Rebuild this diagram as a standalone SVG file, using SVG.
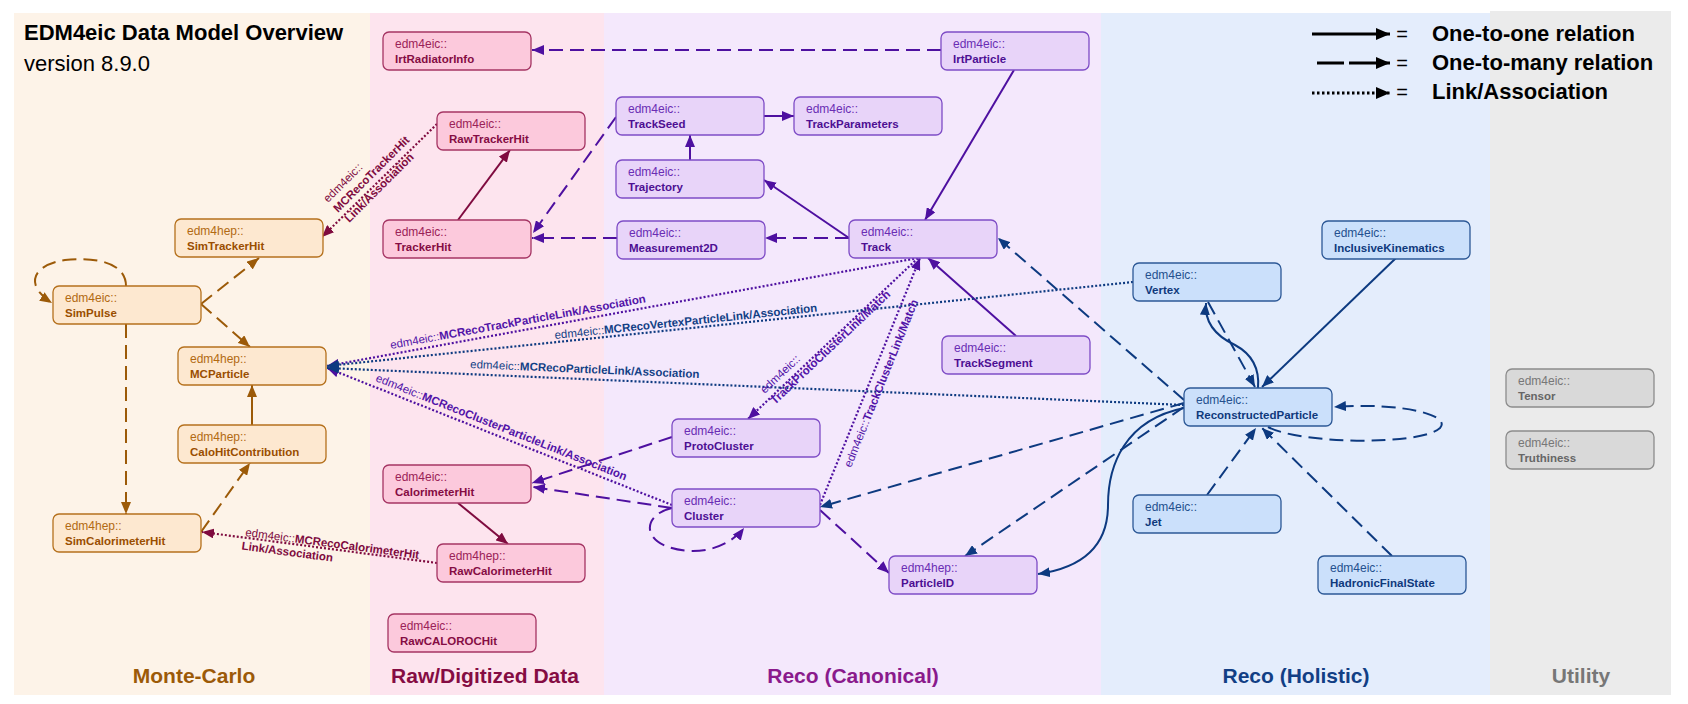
<svg xmlns="http://www.w3.org/2000/svg" width="1688" height="704" viewBox="0 0 1688 704">
<defs>
<style>
text{font-family:"Liberation Sans",Arial,sans-serif}
.node rect{stroke-width:1.3}
.ns{font-size:12px}
.nm{font-size:11.5px;font-weight:bold}
.mc rect{fill:#fde8d0;stroke:#b5701c}.mc .ns{fill:#b26a12}.mc .nm{fill:#9a4e00}
.raw rect{fill:#fcc9dc;stroke:#a53463}.raw .ns{fill:#9b2258}.raw .nm{fill:#850c43}
.can rect{fill:#e8d4f9;stroke:#7e4cc6}.can .ns{fill:#6a2db4}.can .nm{fill:#4d0f93}
.hol rect{fill:#cbe0fb;stroke:#2c5896}.hol .ns{fill:#25508e}.hol .nm{fill:#0f397c}
.utl rect{fill:#d9d9d9;stroke:#8c8c8c}.utl .ns{fill:#777}.utl .nm{fill:#666}
.e{fill:none;stroke-width:2}
.dash{stroke-dasharray:14 7}
.dot{stroke-dasharray:2 2;stroke-width:2.2}
.cmc{stroke:#9c5a08}.craw{stroke:#7f0b3f}.ccan{stroke:#4e10a0}.chol{stroke:#0d3a80}
.lbl{font-size:11.5px}
.b{font-weight:bold}
.lraw{fill:#7f0b3f}.lcan{fill:#5214a8}.lhol{fill:#123f85}
.sec{font-size:21px;font-weight:bold;text-anchor:middle}
.leg{font-size:22px;font-weight:bold;fill:#000}
</style>
<marker id="a-mc" viewBox="0 0 12 10" refX="12" refY="5" markerWidth="12" markerHeight="10" markerUnits="userSpaceOnUse" orient="auto"><path d="M0,0 L12,5 L0,10 z" fill="#9c5a08"/></marker>
<marker id="a-raw" viewBox="0 0 12 10" refX="12" refY="5" markerWidth="12" markerHeight="10" markerUnits="userSpaceOnUse" orient="auto"><path d="M0,0 L12,5 L0,10 z" fill="#7f0b3f"/></marker>
<marker id="a-can" viewBox="0 0 12 10" refX="12" refY="5" markerWidth="12" markerHeight="10" markerUnits="userSpaceOnUse" orient="auto"><path d="M0,0 L12,5 L0,10 z" fill="#4e10a0"/></marker>
<marker id="a-hol" viewBox="0 0 12 10" refX="12" refY="5" markerWidth="12" markerHeight="10" markerUnits="userSpaceOnUse" orient="auto"><path d="M0,0 L12,5 L0,10 z" fill="#0d3a80"/></marker>
<marker id="a-blk" viewBox="0 0 14 12" refX="14" refY="6" markerWidth="14" markerHeight="12" markerUnits="userSpaceOnUse" orient="auto"><path d="M0,0 L14,6 L0,12 z" fill="#000"/></marker>
</defs>

<g id="panels">
<rect x="14" y="13" width="356" height="682" fill="#fdf3e8"/>
<rect x="370" y="13" width="234" height="682" fill="#fde4ee"/>
<rect x="604" y="13" width="497" height="682" fill="#f4e8fc"/>
<rect x="1101" y="13" width="389" height="682" fill="#e4edfc"/>
<rect x="1490" y="11" width="181" height="684" fill="#ebebeb"/>
</g>

<g id="titles">
<text x="24" y="40" style="font-size:22px;font-weight:bold" fill="#000">EDM4eic Data Model Overview</text>
<text x="24" y="71" style="font-size:22px" fill="#000">version 8.9.0</text>
<text class="sec" x="194" y="683" fill="#9c5a08">Monte-Carlo</text>
<text class="sec" x="485" y="683" fill="#850c43">Raw/Digitized Data</text>
<text class="sec" x="853" y="683" fill="#8a1a8c">Reco (Canonical)</text>
<text class="sec" x="1296" y="683" fill="#123f85">Reco (Holistic)</text>
<text class="sec" x="1581" y="683" fill="#777">Utility</text>
</g>

<g id="legend">
<path d="M1312,34 L1390,34" stroke="#000" stroke-width="3" fill="none" marker-end="url(#a-blk)"/>
<path d="M1317,63 L1344,63 M1349,63 L1390,63" stroke="#000" stroke-width="3" fill="none" marker-end="url(#a-blk)"/>
<path d="M1312,93 L1390,93" stroke="#000" stroke-width="3" stroke-dasharray="2.5 2.5" fill="none" marker-end="url(#a-blk)"/>
<text x="1402" y="41" style="font-size:20px;text-anchor:middle">=</text>
<text x="1402" y="70" style="font-size:20px;text-anchor:middle">=</text>
<text x="1402" y="99" style="font-size:20px;text-anchor:middle">=</text>
<text class="leg" x="1432" y="41">One-to-one relation</text>
<text class="leg" x="1432" y="70">One-to-many relation</text>
<text class="leg" x="1432" y="99">Link/Association</text>
</g>

<g id="connectors">
<!-- Monte-Carlo -->
<path class="e dash cmc" d="M126,286 C126,262 95,257 65,260 C35,264 22,284 52,303" marker-end="url(#a-mc)"/>
<path class="e dash cmc" d="M201,304 L259,258" marker-end="url(#a-mc)"/>
<path class="e dash cmc" d="M201,304 L250,347" marker-end="url(#a-mc)"/>
<path class="e dash cmc" d="M126,324 L126,514" marker-end="url(#a-mc)"/>
<path class="e cmc" d="M252,425 L252,385" marker-end="url(#a-mc)"/>
<path class="e dash cmc" d="M201,532 L250,463" marker-end="url(#a-mc)"/>
<!-- Raw -->
<path class="e craw" d="M458,220 L510,150" marker-end="url(#a-raw)"/>
<path class="e dot craw" d="M437,124 L322,237" marker-end="url(#a-raw)"/>
<path class="e dot craw" d="M437,563 L202,532" marker-end="url(#a-raw)"/>
<path class="e craw" d="M458,503 L508,544" marker-end="url(#a-raw)"/>
<!-- Canonical -->
<path class="e dash ccan" d="M941,50 L532,50" marker-end="url(#a-can)"/>
<path class="e ccan" d="M1014,70 L925,220" marker-end="url(#a-can)"/>
<path class="e ccan" d="M764,116 L794,116" marker-end="url(#a-can)"/>
<path class="e ccan" d="M690,160 L690,135" marker-end="url(#a-can)"/>
<path class="e ccan" d="M849,238 L764,180" marker-end="url(#a-can)"/>
<path class="e dash ccan" d="M849,238 L765,238" marker-end="url(#a-can)"/>
<path class="e dash ccan" d="M617,238 L532,238" marker-end="url(#a-can)"/>
<path class="e dash ccan" d="M616,117 L533,233" marker-end="url(#a-can)"/>
<path class="e ccan" d="M1016,336 L928,258" marker-end="url(#a-can)"/>
<path class="e dash ccan" d="M672,437 L532,483" marker-end="url(#a-can)"/>
<path class="e dash ccan" d="M672,508 L533,487" marker-end="url(#a-can)"/>
<path class="e dash ccan" d="M672,508 C640,515 640,548 690,551 C715,552 735,540 744,528" marker-end="url(#a-can)"/>
<path class="e dash ccan" d="M820,510 L889,573" marker-end="url(#a-can)"/>
<path class="e dot ccan" d="M820,505 L920,258" marker-end="url(#a-can)"/>
<path class="e dot ccan" d="M918,258 L748,419" marker-end="url(#a-can)"/>
<path class="e dot ccan" d="M918,258 L327,366" marker-end="url(#a-can)"/>
<path class="e dot ccan" d="M672,505 L327,368" marker-end="url(#a-can)"/>
<!-- Holistic -->
<path class="e dot chol" d="M1133,282 L327,366" marker-end="url(#a-hol)"/>
<path class="e dot chol" d="M1184,405 L327,368" marker-end="url(#a-hol)"/>
<path class="e chol" d="M1396,258 L1262,387" marker-end="url(#a-hol)"/>
<path class="e dash chol" d="M1208,302 L1255,387" marker-end="url(#a-hol)"/>
<path class="e chol" d="M1258,388 C1260,365 1248,352 1235,345 C1218,337 1204,325 1206,303" marker-end="url(#a-hol)"/>
<path class="e dash chol" d="M1268,427 C1300,444 1420,446 1440,428 C1452,415 1400,402 1334,407" marker-end="url(#a-hol)"/>
<path class="e dash chol" d="M1207,495 L1256,428" marker-end="url(#a-hol)"/>
<path class="e dash chol" d="M1392,556 L1262,428" marker-end="url(#a-hol)"/>
<path class="e dash chol" d="M1184,400 L998,238" marker-end="url(#a-hol)"/>
<path class="e dash chol" d="M1184,403 L820,507" marker-end="url(#a-hol)"/>
<path class="e dash chol" d="M1184,407 L965,556" marker-end="url(#a-hol)"/>
<path class="e chol" d="M1184,408 C1125,420 1108,465 1108,505 C1108,548 1080,568 1038,574" marker-end="url(#a-hol)"/>
</g>

<g id="connector-labels" class="lbl">
<g transform="translate(338,213) rotate(-45)" class="lraw">
<text x="0" y="-14">edm4eic::</text>
<text x="0" y="0" class="b">MCRecoTrackerHit</text>
<text x="1" y="15" class="b">Link/Association</text>
</g>
<g transform="translate(245,536) rotate(7.5)" class="lraw">
<text x="0" y="0">edm4eic::<tspan class="b">MCRecoCalorimeterHit</tspan></text>
<text x="-2" y="14" class="b">Link/Association</text>
</g>
<text transform="translate(391,349) rotate(-10.36)" class="lcan">edm4eic::<tspan class="b">MCRecoTrackParticleLink/Association</tspan></text>
<text transform="translate(555,339) rotate(-5.95)" class="lhol">edm4eic::<tspan class="b">MCRecoVertexParticleLink/Association</tspan></text>
<text transform="translate(470,368) rotate(2.5)" class="lhol">edm4eic::<tspan class="b">MCRecoParticleLink/Association</tspan></text>
<text transform="translate(375,381) rotate(21.7)" class="lcan">edm4eic::<tspan class="b">MCRecoClusterParticleLink/Association</tspan></text>
<g transform="translate(775,405) rotate(-43.4)" class="lcan">
<text x="0" y="-15">edm4eic::</text>
<text x="0" y="0" class="b">TrackProtoClusterLink/Match</text>
</g>
<text transform="translate(851,468) rotate(-68)" class="lcan">edm4eic::<tspan class="b">TrackClusterLink/Match</tspan></text>
</g>

<g id="n-SimTrackerHit" class="node mc"><rect x="175" y="219" width="148" height="38" rx="6"/><text class="ns" x="187" y="235">edm4hep::</text><text class="nm" x="187" y="250">SimTrackerHit</text></g>
<g id="n-SimPulse" class="node mc"><rect x="53" y="286" width="148" height="38" rx="6"/><text class="ns" x="65" y="302">edm4eic::</text><text class="nm" x="65" y="317">SimPulse</text></g>
<g id="n-MCParticle" class="node mc"><rect x="178" y="347" width="148" height="38" rx="6"/><text class="ns" x="190" y="363">edm4hep::</text><text class="nm" x="190" y="378">MCParticle</text></g>
<g id="n-CaloHitContribution" class="node mc"><rect x="178" y="425" width="148" height="38" rx="6"/><text class="ns" x="190" y="441">edm4hep::</text><text class="nm" x="190" y="456">CaloHitContribution</text></g>
<g id="n-SimCalorimeterHit" class="node mc"><rect x="53" y="514" width="148" height="38" rx="6"/><text class="ns" x="65" y="530">edm4hep::</text><text class="nm" x="65" y="545">SimCalorimeterHit</text></g>

<g id="n-IrtRadiatorInfo" class="node raw"><rect x="383" y="32" width="148" height="38" rx="6"/><text class="ns" x="395" y="48">edm4eic::</text><text class="nm" x="395" y="63">IrtRadiatorInfo</text></g>
<g id="n-RawTrackerHit" class="node raw"><rect x="437" y="112" width="148" height="38" rx="6"/><text class="ns" x="449" y="128">edm4eic::</text><text class="nm" x="449" y="143">RawTrackerHit</text></g>
<g id="n-TrackerHit" class="node raw"><rect x="383" y="220" width="148" height="38" rx="6"/><text class="ns" x="395" y="236">edm4eic::</text><text class="nm" x="395" y="251">TrackerHit</text></g>
<g id="n-CalorimeterHit" class="node raw"><rect x="383" y="465" width="148" height="38" rx="6"/><text class="ns" x="395" y="481">edm4eic::</text><text class="nm" x="395" y="496">CalorimeterHit</text></g>
<g id="n-RawCalorimeterHit" class="node raw"><rect x="437" y="544" width="148" height="38" rx="6"/><text class="ns" x="449" y="560">edm4hep::</text><text class="nm" x="449" y="575">RawCalorimeterHit</text></g>
<g id="n-RawCALOROCHit" class="node raw"><rect x="388" y="614" width="148" height="38" rx="6"/><text class="ns" x="400" y="630">edm4eic::</text><text class="nm" x="400" y="645">RawCALOROCHit</text></g>

<g id="n-IrtParticle" class="node can"><rect x="941" y="32" width="148" height="38" rx="6"/><text class="ns" x="953" y="48">edm4eic::</text><text class="nm" x="953" y="63">IrtParticle</text></g>
<g id="n-TrackSeed" class="node can"><rect x="616" y="97" width="148" height="38" rx="6"/><text class="ns" x="628" y="113">edm4eic::</text><text class="nm" x="628" y="128">TrackSeed</text></g>
<g id="n-TrackParameters" class="node can"><rect x="794" y="97" width="148" height="38" rx="6"/><text class="ns" x="806" y="113">edm4eic::</text><text class="nm" x="806" y="128">TrackParameters</text></g>
<g id="n-Trajectory" class="node can"><rect x="616" y="160" width="148" height="38" rx="6"/><text class="ns" x="628" y="176">edm4eic::</text><text class="nm" x="628" y="191">Trajectory</text></g>
<g id="n-Measurement2D" class="node can"><rect x="617" y="221" width="148" height="38" rx="6"/><text class="ns" x="629" y="237">edm4eic::</text><text class="nm" x="629" y="252">Measurement2D</text></g>
<g id="n-Track" class="node can"><rect x="849" y="220" width="148" height="38" rx="6"/><text class="ns" x="861" y="236">edm4eic::</text><text class="nm" x="861" y="251">Track</text></g>
<g id="n-TrackSegment" class="node can"><rect x="942" y="336" width="148" height="38" rx="6"/><text class="ns" x="954" y="352">edm4eic::</text><text class="nm" x="954" y="367">TrackSegment</text></g>
<g id="n-ProtoCluster" class="node can"><rect x="672" y="419" width="148" height="38" rx="6"/><text class="ns" x="684" y="435">edm4eic::</text><text class="nm" x="684" y="450">ProtoCluster</text></g>
<g id="n-Cluster" class="node can"><rect x="672" y="489" width="148" height="38" rx="6"/><text class="ns" x="684" y="505">edm4eic::</text><text class="nm" x="684" y="520">Cluster</text></g>
<g id="n-ParticleID" class="node can"><rect x="889" y="556" width="148" height="38" rx="6"/><text class="ns" x="901" y="572">edm4hep::</text><text class="nm" x="901" y="587">ParticleID</text></g>

<g id="n-InclusiveKinematics" class="node hol"><rect x="1322" y="221" width="148" height="38" rx="6"/><text class="ns" x="1334" y="237">edm4eic::</text><text class="nm" x="1334" y="252">InclusiveKinematics</text></g>
<g id="n-Vertex" class="node hol"><rect x="1133" y="263" width="148" height="38" rx="6"/><text class="ns" x="1145" y="279">edm4eic::</text><text class="nm" x="1145" y="294">Vertex</text></g>
<g id="n-ReconstructedParticle" class="node hol"><rect x="1184" y="388" width="148" height="38" rx="6"/><text class="ns" x="1196" y="404">edm4eic::</text><text class="nm" x="1196" y="419">ReconstructedParticle</text></g>
<g id="n-Jet" class="node hol"><rect x="1133" y="495" width="148" height="38" rx="6"/><text class="ns" x="1145" y="511">edm4eic::</text><text class="nm" x="1145" y="526">Jet</text></g>
<g id="n-HadronicFinalState" class="node hol"><rect x="1318" y="556" width="148" height="38" rx="6"/><text class="ns" x="1330" y="572">edm4eic::</text><text class="nm" x="1330" y="587">HadronicFinalState</text></g>

<g id="n-Tensor" class="node utl"><rect x="1506" y="369" width="148" height="38" rx="6"/><text class="ns" x="1518" y="385">edm4eic::</text><text class="nm" x="1518" y="400">Tensor</text></g>
<g id="n-Truthiness" class="node utl"><rect x="1506" y="431" width="148" height="38" rx="6"/><text class="ns" x="1518" y="447">edm4eic::</text><text class="nm" x="1518" y="462">Truthiness</text></g>
</svg>
